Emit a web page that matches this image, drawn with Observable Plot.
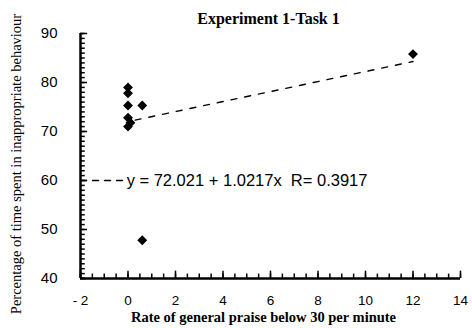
<!DOCTYPE html>
<html>
<head>
<meta charset="utf-8">
<script src="https://cdn.jsdelivr.net/npm/d3@7"></script>
<script src="https://cdn.jsdelivr.net/npm/@observablehq/plot@0.6"></script>
<style>
  html, body { margin: 0; padding: 0; background: #fff; }
  #chart svg { display: block; }
</style>
</head>
<body>
<div id="chart"></div>
<script>
// ---- data ----
const praiseRate = [0, 0, 0, 0, 0.1, 0, 0.6, 0.6, 12];
const inappropriatePct = [79, 77.8, 75.3, 72.8, 71.8, 71.0, 75.3, 47.8, 85.8];

const fitIntercept = 72.021;
const fitSlope = 1.0217;
const fitR = 0.3917;
const fitXs = [0.3, 12];

const xTicks = [-2, 0, 2, 4, 6, 8, 10, 12, 14];
const yTicks = [40, 50, 60, 70, 80, 90];
const xMinorTicks = d3.range(-2, 14.001, 0.5);
const yMinorTicks = d3.range(40, 90.001, 1);

const titleText = "Experiment 1-Task 1";
const xLabel = "Rate of general praise below 30 per minute";
const yLabel = "Percentage of time spent in inappropriate behaviour";
const legendText = `y = ${fitIntercept} + ${fitSlope}x  R= ${fitR}`;
const legendY = 60;
const legendXs = [-2, -0.1];

// ---- build tables ----
const points = praiseRate.map((x, i) => ({x, y: inappropriatePct[i]}));
const fitLine = fitXs.map(x => ({x, y: fitIntercept + fitSlope * x}));
const legendLine = legendXs.map(x => ({x, y: legendY}));

const serif = "'Liberation Serif', 'DejaVu Serif', serif";
const sans = "'Liberation Sans', Arial, sans-serif";

const chart = Plot.plot({
  width: 472,
  height: 328,
  marginLeft: 80,
  marginRight: 12,
  marginTop: 33,
  marginBottom: 50,
  style: {fontFamily: sans, background: "#fff", color: "#000"},
  x: {type: "linear", domain: [-2, 14], axis: null},
  y: {type: "linear", domain: [40, 90], axis: null},
  marks: [
    // inward tick marks along the axes
    Plot.ruleX(xMinorTicks, {x: d => d, y1: 40, y2: 40.9, strokeWidth: 1.5}),
    Plot.ruleX(xTicks, {x: d => d, y1: 40, y2: 41.5, strokeWidth: 1.5}),
    Plot.ruleY(yMinorTicks, {y: d => d, x1: -2, x2: -1.8, strokeWidth: 1.5}),
    Plot.ruleY(yTicks, {y: d => d, x1: -2, x2: -1.7, strokeWidth: 1.5}),
    // tick labels
    Plot.axisX({ticks: xTicks, tickSize: 0, tickPadding: 17, fontSize: 13.5, label: null,
      tickFormat: d => d < 0 ? "- " + Math.abs(d) : String(d)}),
    Plot.axisY({ticks: yTicks, tickSize: 0, tickPadding: 23, fontSize: 15, label: null}),
    // axis lines
    Plot.ruleX([-2], {strokeWidth: 2.5}),
    Plot.ruleY([40], {strokeWidth: 2.5}),
    // regression line
    Plot.line(fitLine, {x: "x", y: "y", stroke: "#000", strokeWidth: 1.4, strokeDasharray: "6,8"}),
    // points
    Plot.dot(points, {x: "x", y: "y", symbol: "diamond2", r: 3.5, fill: "#000", stroke: "#000"}),
    // legend
    Plot.line(legendLine, {x: "x", y: "y", stroke: "#000", strokeWidth: 1.4, strokeDasharray: "6,6"}),
    Plot.text([legendText], {x: legendXs[1], y: legendY, text: d => d, textAnchor: "start",
      fontSize: 16.5, fontFamily: sans, dx: 1}),
    // titles
    Plot.text([titleText], {frameAnchor: "top", text: d => d, dy: -21, dx: -2,
      fontSize: 16, fontWeight: "bold", fontFamily: serif}),
    Plot.text([xLabel], {frameAnchor: "bottom", text: d => d, dy: 43, dx: -7,
      fontSize: 14.5, fontWeight: "bold", fontFamily: serif}),
    Plot.text([yLabel], {frameAnchor: "left", text: d => d, rotate: -90, dx: -64, dy: 8,
      textAnchor: "middle", fontSize: 14.5, fontFamily: serif})
  ]
});
document.getElementById("chart").appendChild(chart);
</script>
</body>
</html>
